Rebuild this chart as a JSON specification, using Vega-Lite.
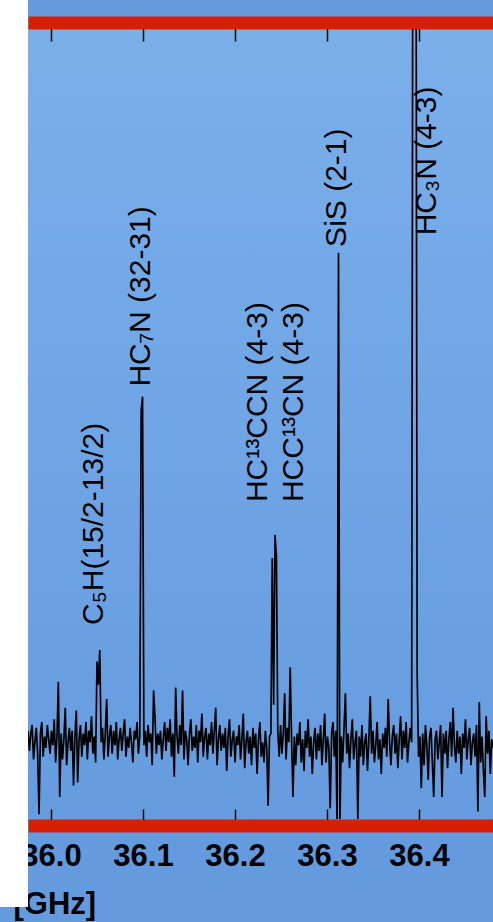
{
  "$schema": "https://vega.github.io/schema/vega-lite/v6.json",
  "width": 465,
  "height": 790,
  "autosize": {"type": "none"},
  "padding": {"left": 28, "top": 29, "right": 0, "bottom": 103},
  "background": "#649ade",
  "config": {
    "font": "Liberation Sans",
    "view": {
      "stroke": null,
      "fill": {"gradient": "linear", "x1": 0, "y1": 0, "x2": 0, "y2": 1,
        "stops": [{"offset": 0, "color": "#7aafea"}, {"offset": 1, "color": "#659ce0"}]}
    }
  },
  "layer": [
    {
      "data": {"values": [
        {"f":35.9750,"t":0.06},{"f":35.9765,"t":-0.01},{"f":35.9780,"t":0.05},{"f":35.9795,"t":0.08},{"f":35.9810,"t":-0.04},
        {"f":35.9825,"t":0.02},{"f":35.9840,"t":0.07},{"f":35.9855,"t":-0.02},{"f":35.9870,"t":-0.23},{"f":35.9885,"t":0.05},
        {"f":35.9900,"t":0.09},{"f":35.9915,"t":-0.03},{"f":35.9930,"t":0.04},{"f":35.9945,"t":0.00},{"f":35.9960,"t":0.08},
        {"f":35.9975,"t":0.03},{"f":35.9990,"t":-0.02},{"f":36.0005,"t":0.06},{"f":36.0020,"t":0.01},{"f":36.0035,"t":0.10},
        {"f":36.0050,"t":-0.05},{"f":36.0065,"t":0.04},{"f":36.0080,"t":0.23},{"f":36.0095,"t":-0.17},{"f":36.0110,"t":0.05},
        {"f":36.0125,"t":-0.04},{"f":36.0140,"t":0.03},{"f":36.0155,"t":0.14},{"f":36.0170,"t":-0.06},{"f":36.0185,"t":0.02},
        {"f":36.0200,"t":0.07},{"f":36.0215,"t":-0.01},{"f":36.0230,"t":0.06},{"f":36.0245,"t":-0.13},{"f":36.0260,"t":0.04},
        {"f":36.0275,"t":0.13},{"f":36.0290,"t":-0.12},{"f":36.0305,"t":0.03},{"f":36.0320,"t":0.08},{"f":36.0335,"t":-0.03},
        {"f":36.0350,"t":0.05},{"f":36.0365,"t":0.01},{"f":36.0380,"t":0.09},{"f":36.0395,"t":-0.04},{"f":36.0410,"t":0.06},
        {"f":36.0425,"t":0.02},{"f":36.0440,"t":0.11},{"f":36.0455,"t":-0.02},{"f":36.0470,"t":0.04},{"f":36.0485,"t":-0.05},
        {"f":36.0500,"t":0.30},{"f":36.0515,"t":0.22},{"f":36.0530,"t":0.34},{"f":36.0545,"t":0.02},{"f":36.0560,"t":0.07},
        {"f":36.0575,"t":-0.04},{"f":36.0590,"t":0.05},{"f":36.0605,"t":0.17},{"f":36.0620,"t":-0.03},{"f":36.0635,"t":0.04},
        {"f":36.0650,"t":0.08},{"f":36.0665,"t":-0.02},{"f":36.0680,"t":0.06},{"f":36.0695,"t":0.01},{"f":36.0710,"t":0.09},
        {"f":36.0725,"t":-0.04},{"f":36.0740,"t":0.03},{"f":36.0755,"t":0.07},{"f":36.0770,"t":-0.01},{"f":36.0785,"t":0.05},
        {"f":36.0800,"t":0.10},{"f":36.0815,"t":-0.03},{"f":36.0830,"t":0.04},{"f":36.0845,"t":0.00},{"f":36.0860,"t":0.07},
        {"f":36.0875,"t":0.02},{"f":36.0890,"t":-0.05},{"f":36.0905,"t":0.06},{"f":36.0920,"t":0.03},{"f":36.0935,"t":0.09},
        {"f":36.0950,"t":-0.02},{"f":36.0965,"t":0.04},{"f":36.0980,"t":1.17},{"f":36.0995,"t":1.22},{"f":36.1010,"t":0.01},
        {"f":36.1025,"t":0.06},{"f":36.1040,"t":-0.03},{"f":36.1055,"t":0.08},{"f":36.1070,"t":0.02},{"f":36.1085,"t":0.05},
        {"f":36.1100,"t":-0.06},{"f":36.1115,"t":0.20},{"f":36.1130,"t":0.11},{"f":36.1145,"t":-0.02},{"f":36.1160,"t":0.05},
        {"f":36.1175,"t":0.01},{"f":36.1190,"t":0.06},{"f":36.1205,"t":-0.04},{"f":36.1220,"t":0.03},{"f":36.1235,"t":0.09},
        {"f":36.1250,"t":-0.01},{"f":36.1265,"t":0.07},{"f":36.1280,"t":0.02},{"f":36.1295,"t":0.10},{"f":36.1310,"t":-0.03},
        {"f":36.1325,"t":0.05},{"f":36.1340,"t":-0.10},{"f":36.1355,"t":0.21},{"f":36.1370,"t":0.04},{"f":36.1385,"t":-0.02},
        {"f":36.1400,"t":0.08},{"f":36.1415,"t":0.01},{"f":36.1430,"t":0.20},{"f":36.1445,"t":-0.04},{"f":36.1460,"t":0.06},
        {"f":36.1475,"t":0.03},{"f":36.1490,"t":-0.06},{"f":36.1505,"t":0.05},{"f":36.1520,"t":0.10},{"f":36.1535,"t":-0.01},
        {"f":36.1550,"t":0.04},{"f":36.1565,"t":0.00},{"f":36.1580,"t":0.08},{"f":36.1595,"t":-0.05},{"f":36.1610,"t":0.06},
        {"f":36.1625,"t":0.02},{"f":36.1640,"t":0.12},{"f":36.1655,"t":-0.03},{"f":36.1670,"t":0.04},{"f":36.1685,"t":0.07},
        {"f":36.1700,"t":-0.04},{"f":36.1715,"t":0.05},{"f":36.1730,"t":0.01},{"f":36.1745,"t":0.09},{"f":36.1760,"t":-0.02},
        {"f":36.1775,"t":0.06},{"f":36.1790,"t":0.14},{"f":36.1805,"t":-0.06},{"f":36.1820,"t":0.03},{"f":36.1835,"t":0.08},
        {"f":36.1850,"t":-0.01},{"f":36.1865,"t":0.05},{"f":36.1880,"t":0.00},{"f":36.1895,"t":0.07},{"f":36.1910,"t":-0.08},
        {"f":36.1925,"t":0.04},{"f":36.1940,"t":0.10},{"f":36.1955,"t":-0.03},{"f":36.1970,"t":0.03},{"f":36.1985,"t":0.06},
        {"f":36.2000,"t":-0.05},{"f":36.2015,"t":0.04},{"f":36.2030,"t":0.01},{"f":36.2045,"t":0.08},{"f":36.2060,"t":-0.04},
        {"f":36.2075,"t":0.03},{"f":36.2090,"t":0.12},{"f":36.2105,"t":-0.07},{"f":36.2120,"t":0.02},{"f":36.2135,"t":0.06},
        {"f":36.2150,"t":-0.02},{"f":36.2165,"t":0.04},{"f":36.2180,"t":-0.06},{"f":36.2195,"t":0.07},{"f":36.2210,"t":0.00},
        {"f":36.2225,"t":0.05},{"f":36.2240,"t":-0.09},{"f":36.2255,"t":0.03},{"f":36.2270,"t":0.09},{"f":36.2285,"t":-0.03},
        {"f":36.2300,"t":0.02},{"f":36.2315,"t":-0.05},{"f":36.2330,"t":0.06},{"f":36.2345,"t":0.00},{"f":36.2360,"t":-0.20},
        {"f":36.2375,"t":0.04},{"f":36.2390,"t":0.05},{"f":36.2405,"t":0.66},{"f":36.2420,"t":0.15},{"f":36.2435,"t":0.74},
        {"f":36.2450,"t":0.67},{"f":36.2465,"t":0.06},{"f":36.2480,"t":-0.03},{"f":36.2495,"t":0.08},{"f":36.2510,"t":-0.02},
        {"f":36.2525,"t":0.05},{"f":36.2540,"t":0.19},{"f":36.2555,"t":-0.04},{"f":36.2570,"t":0.07},{"f":36.2585,"t":0.02},
        {"f":36.2600,"t":0.28},{"f":36.2615,"t":0.03},{"f":36.2630,"t":-0.17},{"f":36.2645,"t":0.04},{"f":36.2660,"t":-0.06},
        {"f":36.2675,"t":0.05},{"f":36.2690,"t":0.01},{"f":36.2705,"t":0.09},{"f":36.2720,"t":-0.05},{"f":36.2735,"t":0.03},
        {"f":36.2750,"t":-0.08},{"f":36.2765,"t":0.06},{"f":36.2780,"t":0.00},{"f":36.2795,"t":0.10},{"f":36.2810,"t":-0.03},
        {"f":36.2825,"t":0.04},{"f":36.2840,"t":-0.09},{"f":36.2855,"t":0.02},{"f":36.2870,"t":0.07},{"f":36.2885,"t":-0.04},
        {"f":36.2900,"t":0.05},{"f":36.2915,"t":-0.01},{"f":36.2930,"t":0.08},{"f":36.2945,"t":-0.06},{"f":36.2960,"t":0.03},
        {"f":36.2975,"t":0.12},{"f":36.2990,"t":-0.05},{"f":36.3005,"t":0.04},{"f":36.3020,"t":0.00},{"f":36.3035,"t":-0.21},
        {"f":36.3050,"t":0.05},{"f":36.3065,"t":0.09},{"f":36.3080,"t":-0.03},{"f":36.3095,"t":0.06},{"f":36.3110,"t":-0.28},
        {"f":36.3125,"t":1.72},{"f":36.3140,"t":-0.28},{"f":36.3155,"t":0.04},{"f":36.3170,"t":-0.05},{"f":36.3185,"t":0.07},
        {"f":36.3200,"t":0.19},{"f":36.3215,"t":-0.02},{"f":36.3230,"t":0.05},{"f":36.3245,"t":-0.07},{"f":36.3260,"t":0.03},
        {"f":36.3275,"t":0.10},{"f":36.3290,"t":-0.04},{"f":36.3305,"t":0.02},{"f":36.3320,"t":0.06},{"f":36.3335,"t":-0.25},
        {"f":36.3350,"t":0.04},{"f":36.3365,"t":-0.03},{"f":36.3380,"t":0.08},{"f":36.3395,"t":-0.06},{"f":36.3410,"t":0.02},
        {"f":36.3425,"t":0.05},{"f":36.3440,"t":-0.08},{"f":36.3455,"t":0.03},{"f":36.3470,"t":0.18},{"f":36.3485,"t":-0.02},
        {"f":36.3500,"t":0.06},{"f":36.3515,"t":-0.05},{"f":36.3530,"t":0.01},{"f":36.3545,"t":0.09},{"f":36.3560,"t":-0.04},
        {"f":36.3575,"t":0.03},{"f":36.3590,"t":-0.09},{"f":36.3605,"t":0.05},{"f":36.3620,"t":0.00},{"f":36.3635,"t":0.07},
        {"f":36.3650,"t":-0.03},{"f":36.3665,"t":0.17},{"f":36.3680,"t":0.02},{"f":36.3695,"t":-0.06},{"f":36.3710,"t":0.04},
        {"f":36.3725,"t":0.08},{"f":36.3740,"t":-0.02},{"f":36.3755,"t":0.05},{"f":36.3770,"t":-0.07},{"f":36.3785,"t":0.03},
        {"f":36.3800,"t":0.11},{"f":36.3815,"t":-0.04},{"f":36.3830,"t":0.06},{"f":36.3845,"t":0.00},{"f":36.3860,"t":0.09},
        {"f":36.3875,"t":-0.05},{"f":36.3890,"t":0.02},{"f":36.3905,"t":0.07},{"f":36.3920,"t":0.02},{"f":36.3935,"t":3.5},
        {"f":36.3950,"t":6.0},{"f":36.3965,"t":3.5},{"f":36.3980,"t":0.26},{"f":36.3995,"t":-0.03},{"f":36.4010,"t":0.04},
        {"f":36.4025,"t":-0.14},{"f":36.4040,"t":0.05},{"f":36.4055,"t":-0.06},{"f":36.4070,"t":0.08},{"f":36.4085,"t":0.01},
        {"f":36.4100,"t":-0.11},{"f":36.4115,"t":0.04},{"f":36.4130,"t":0.07},{"f":36.4145,"t":-0.05},{"f":36.4160,"t":-0.17},
        {"f":36.4175,"t":0.03},{"f":36.4190,"t":0.06},{"f":36.4205,"t":-0.04},{"f":36.4220,"t":0.02},{"f":36.4235,"t":0.08},
        {"f":36.4250,"t":-0.17},{"f":36.4265,"t":0.05},{"f":36.4280,"t":-0.02},{"f":36.4295,"t":0.06},{"f":36.4310,"t":-0.07},
        {"f":36.4325,"t":0.03},{"f":36.4340,"t":0.09},{"f":36.4355,"t":-0.03},{"f":36.4370,"t":0.14},{"f":36.4385,"t":0.01},
        {"f":36.4400,"t":-0.05},{"f":36.4415,"t":0.06},{"f":36.4430,"t":-0.02},{"f":36.4445,"t":0.04},{"f":36.4460,"t":-0.09},
        {"f":36.4475,"t":0.05},{"f":36.4490,"t":0.00},{"f":36.4505,"t":0.10},{"f":36.4520,"t":-0.04},{"f":36.4535,"t":0.03},
        {"f":36.4550,"t":0.07},{"f":36.4565,"t":-0.06},{"f":36.4580,"t":0.02},{"f":36.4595,"t":0.05},{"f":36.4610,"t":-0.03},
        {"f":36.4625,"t":0.08},{"f":36.4640,"t":-0.22},{"f":36.4655,"t":0.16},{"f":36.4670,"t":-0.05},{"f":36.4685,"t":0.04},
        {"f":36.4700,"t":-0.08},{"f":36.4715,"t":-0.17},{"f":36.4730,"t":0.11},{"f":36.4745,"t":-0.02},{"f":36.4760,"t":0.06},
        {"f":36.4775,"t":-0.09},{"f":36.4790,"t":0.03},{"f":36.4805,"t":0.00}
      ]},
      "mark": {"type": "line", "color": "#000000", "strokeWidth": 1.7, "clip": true},
      "encoding": {
        "x": {"field": "f", "type": "quantitative",
          "scale": {"domain": [35.975, 36.48043], "nice": false, "zero": false},
          "axis": {"orient": "bottom", "offset": 6.5, "values": [36.0, 36.1, 36.2, 36.3, 36.4], "format": ".1f",
            "grid": false, "domainColor": "#d71f00", "domainWidth": 13, "domainCap": "butt",
            "tickColor": "#000000", "tickWidth": 1.5, "tickSize": -16.5,
            "labelFont": "Liberation Sans", "labelFontWeight": "bold", "labelFontSize": 31, "labelColor": "#000000",
            "labelBaseline": "alphabetic", "labelPadding": 56, "labelFlush": false, "labelOverlap": false,
            "title": "[GHz]", "titleFont": "Liberation Sans", "titleFontWeight": "bold", "titleFontSize": 31,
            "titleColor": "#000000", "titleAnchor": "start", "titleAlign": "left", "titleBaseline": "alphabetic",
            "titleX": -15, "titleY": 87.5}},
        "y": {"field": "t", "type": "quantitative",
          "scale": {"domain": [-0.2465, 2.4965], "nice": false, "zero": false},
          "axis": {"orient": "right", "values": [0, 0.5, 1, 1.5, 2], "grid": false, "labels": false, "title": null,
            "domainColor": "#d71f00", "domainWidth": 2, "tickColor": "#000000", "tickWidth": 1.5, "tickSize": -3}}
      }
    },
    {
      "data": {"values": [
        {"lf": 36.0565, "lt": 0.427, "name": "C₅H(15/2-13/2)"},
        {"lf": 36.1076, "lt": 1.255, "name": "HC₇N (32-31)"},
        {"lf": 36.2348, "lt": 0.854, "name": "HC¹³CCN (4-3)"},
        {"lf": 36.2739, "lt": 0.854, "name": "HCC¹³CN (4-3)"},
        {"lf": 36.3207, "lt": 1.74, "name": "SiS (2-1)"},
        {"lf": 36.4185, "lt": 1.78, "name": "HC₃N (4-3)"}
      ]},
      "mark": {"type": "text", "angle": 270, "align": "left", "baseline": "alphabetic",
        "font": "Liberation Sans", "fontSize": 30, "color": "#000000"},
      "encoding": {
        "x": {"field": "lf", "type": "quantitative",
          "scale": {"domain": [35.975, 36.48043], "nice": false, "zero": false},
          "axis": {"orient": "top", "offset": 6.5, "values": [36.0, 36.1, 36.2, 36.3, 36.4], "grid": false,
            "labels": false, "title": null, "domainColor": "#d71f00", "domainWidth": 13, "domainCap": "butt",
            "tickColor": "#000000", "tickWidth": 1.5, "tickSize": -18.5}},
        "y": {"field": "lt", "type": "quantitative",
          "scale": {"domain": [-0.2465, 2.4965], "nice": false, "zero": false}, "axis": null},
        "text": {"field": "name", "type": "nominal"}
      }
    },
    {
      "data": {"values": [{"x0": 35.9, "x1": 35.975, "y0": -0.552, "y1": 3.0}]},
      "mark": {"type": "rect", "color": "#ffffff", "clip": false},
      "encoding": {
        "x": {"field": "x0", "type": "quantitative",
          "scale": {"domain": [35.975, 36.48043], "nice": false, "zero": false}, "axis": null},
        "x2": {"field": "x1"},
        "y": {"field": "y0", "type": "quantitative",
          "scale": {"domain": [-0.2465, 2.4965], "nice": false, "zero": false}, "axis": null},
        "y2": {"field": "y1"}
      }
    }
  ]
}
